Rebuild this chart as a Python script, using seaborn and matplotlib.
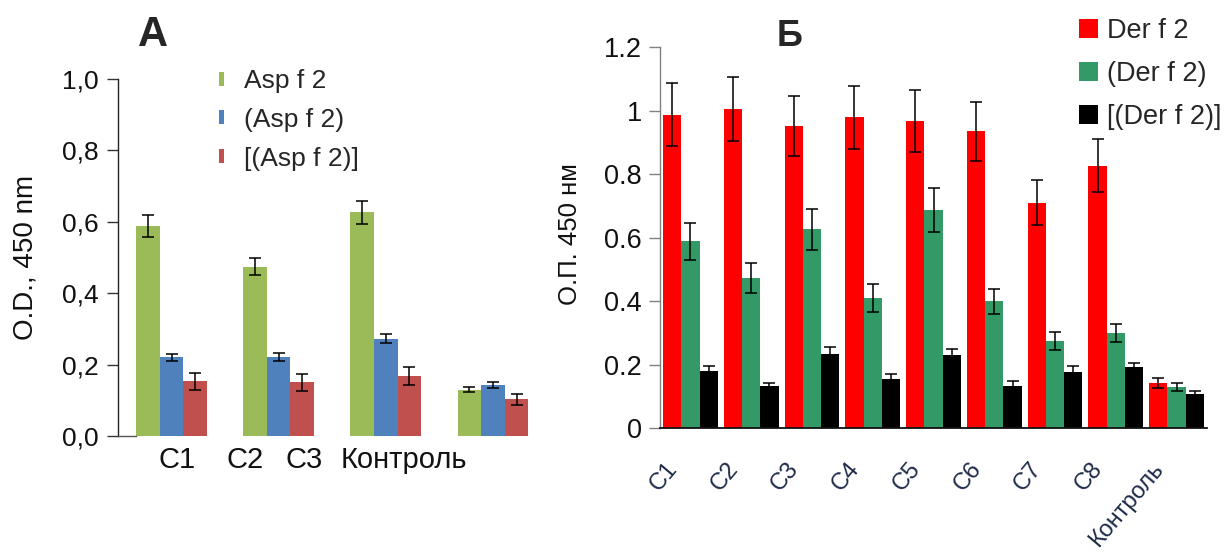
import numpy as np
import pandas as pd
import matplotlib
matplotlib.use("Agg")
import matplotlib.pyplot as plt
from matplotlib.patches import Patch
from matplotlib.transforms import ScaledTranslation
import seaborn as sns

# ---------------- data ----------------
cats_A = ["C1", "C2", "C3", "Контроль"]
series_A = ["Asp f 2", "(Asp f 2)", "[(Asp f 2)]"]
A_s1 = [0.588, 0.474, 0.627, 0.130]
A_s1_err = [0.030, 0.024, 0.032, 0.008]
A_s2 = [0.221, 0.221, 0.273, 0.143]
A_s2_err = [0.010, 0.012, 0.013, 0.008]
A_s3 = [0.153, 0.150, 0.169, 0.103]
A_s3_err = [0.023, 0.024, 0.025, 0.015]
A_yticks = [0.0, 0.2, 0.4, 0.6, 0.8, 1.0]
A_yticklabels = ["0,0", "0,2", "0,4", "0,6", "0,8", "1,0"]

cats_B = ["C1", "C2", "C3", "C4", "C5", "C6", "C7", "C8", "Контроль"]
series_B = ["Der f 2", "(Der f 2)", "[(Der f 2)]"]
B_red = [0.988, 1.005, 0.953, 0.979, 0.968, 0.935, 0.710, 0.827, 0.142]
B_red_err = [0.100, 0.100, 0.095, 0.100, 0.097, 0.093, 0.071, 0.083, 0.016]
B_green = [0.589, 0.473, 0.627, 0.409, 0.688, 0.400, 0.275, 0.301, 0.130]
B_green_err = [0.059, 0.048, 0.064, 0.044, 0.070, 0.040, 0.027, 0.029, 0.014]
B_black = [0.181, 0.132, 0.233, 0.156, 0.230, 0.133, 0.177, 0.192, 0.107]
B_black_err = [0.015, 0.012, 0.022, 0.014, 0.019, 0.016, 0.019, 0.014, 0.010]
B_yticks = [0.0, 0.2, 0.4, 0.6, 0.8, 1.0, 1.2]
B_yticklabels = ["0", "0.2", "0.4", "0.6", "0.8", "1", "1.2"]

colors_A = ["#9BBB59", "#4F81BD", "#C0504D"]
colors_B = ["#FF0000", "#339966", "#000000"]

# ---------------- style ----------------
sns.set_theme(style="ticks")
plt.rcParams["font.family"] = ["Liberation Sans", "DejaVu Sans"]
plt.rcParams["axes.linewidth"] = 1.0

W, H = 1232, 556
fig = plt.figure(figsize=(W / 100, H / 100), dpi=100)


def px_axes(left, top, right, bottom):
    return fig.add_axes([left / W, 1 - bottom / H, (right - left) / W, (bottom - top) / H])


def draw_bars(ax, cats, series, vals, errs, colors, width, capsize):
    df = pd.DataFrame({
        "cat": np.repeat([cats], len(series), axis=0).ravel(),
        "series": np.repeat(series, len(cats)),
        "val": np.concatenate(vals),
    })
    sns.barplot(data=df, x="cat", y="val", hue="series", order=cats,
                hue_order=series, palette=colors, width=width, errorbar=None,
                saturation=1, linewidth=0, legend=False, ax=ax)
    for cont, err in zip(ax.containers, errs):
        xs = [b.get_x() + b.get_width() / 2 for b in cont]
        hs = [b.get_height() for b in cont]
        ax.errorbar(xs, hs, yerr=err, fmt="none", ecolor="black",
                    elinewidth=1.1, capsize=capsize, capthick=1.1, zorder=5)


# ---------------- panel A ----------------
axA = px_axes(118, 79, 546.5, 436)
draw_bars(axA, cats_A, series_A, [A_s1, A_s2, A_s3],
          [A_s1_err, A_s2_err, A_s3_err], colors_A, 0.66, 4.3)
axA.set_xlim(-0.5, len(cats_A) - 0.5)
axA.set_ylim(0, 1.0)
axA.set_yticks(A_yticks)
axA.set_yticklabels(A_yticklabels)
sns.despine(ax=axA)
axA.spines["bottom"].set_bounds(-0.5, -0.33)
axA.spines["left"].set_color("#222222")
axA.spines["bottom"].set_color("#555555")
axA.tick_params(axis="y", length=8, width=1, color="#333333", labelsize=19,
                pad=6, labelcolor="#111111")
# x labels at their (shifted) places in the original
A_label_pos = [0.05, 0.69, 1.24, 2.17]
axA.set_xticks(A_label_pos)
axA.set_xticklabels(cats_A)
axA.tick_params(axis="x", length=0, labelsize=21, pad=7, labelcolor="#111111")
axA.set_xlabel("")
axA.set_ylabel("O.D., 450 nm", fontsize=20, color="#111111")
axA.yaxis.set_label_coords(-0.215, 0.50)
axA.yaxis.label.set_va("center")

handles_A = [Patch(facecolor=c, edgecolor="none") for c in colors_A]
fig.legend(handles_A, series_A, loc="upper left",
           bbox_to_anchor=(219 / W, 1 - 69 / H), frameon=False, fontsize=19,
           handlelength=0.18, handleheight=0.45, handletextpad=0.75,
           labelspacing=0.56, borderpad=0, borderaxespad=0)

fig.text(153 / W, 1 - 35 / H, "A", fontsize=30, fontweight="bold",
         ha="center", va="center")

# ---------------- panel B ----------------
axB = px_axes(660, 47.3, 1207, 428.3)
draw_bars(axB, cats_B, series_B, [B_red, B_green, B_black],
          [B_red_err, B_green_err, B_black_err], colors_B, 0.9, 4.6)
axB.set_xlim(-0.5, len(cats_B) - 0.5)
axB.set_ylim(0, 1.2)
axB.set_yticks(B_yticks)
axB.set_yticklabels(B_yticklabels)
sns.despine(ax=axB)
axB.spines["left"].set_color("#808080")
axB.spines["bottom"].set_color("#111111")
axB.spines["bottom"].set_linewidth(1.3)
axB.tick_params(axis="y", length=8, width=1, color="#808080", labelsize=19.5,
                pad=5, labelcolor="#111111")
axB.set_xticks(range(len(cats_B)))
axB.set_xticklabels(cats_B, rotation=50, ha="right", va="center",
                    rotation_mode="anchor", color="#1c2a48")
axB.tick_params(axis="x", length=0, labelsize=17, pad=0)
off = ScaledTranslation(-0.17, -0.37, fig.dpi_scale_trans)
for lab in axB.get_xticklabels():
    lab.set_transform(lab.get_transform() + off)
axB.set_xlabel("")
axB.set_ylabel("О.П. 450 нм", fontsize=18.5, color="#111111")
axB.yaxis.set_label_coords(-0.165, 0.51)
axB.yaxis.label.set_va("center")

handles_B = [Patch(facecolor=c, edgecolor="none") for c in colors_B]
fig.legend(handles_B, series_B, loc="upper left",
           bbox_to_anchor=(1079 / W, 1 - 18 / H), frameon=False, fontsize=19.5,
           handlelength=0.7, handleheight=0.7, handletextpad=0.33,
           labelspacing=0.63, borderpad=0, borderaxespad=0)

fig.text(790 / W, 1 - 36 / H, "Б", fontsize=26, fontweight="bold",
         ha="center", va="center")

fig.savefig("out.png", dpi=100)
